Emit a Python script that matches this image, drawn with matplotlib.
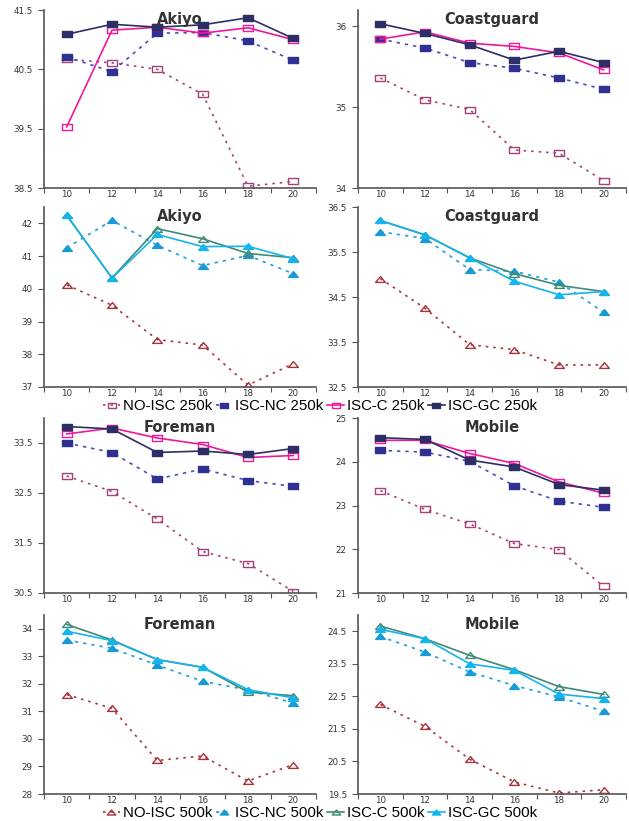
import matplotlib
matplotlib.use("Agg")
import matplotlib.pyplot as plt
from matplotlib.lines import Line2D
from matplotlib.path import Path

plt.rcParams['font.family'] = ['Liberation Sans', 'DejaVu Sans']

qp = ["10", "12", "14", "16", "18", "20"]

# 250k series
akiyo_250_no = [40.67, 40.61, 40.50, 40.08, 38.53, 38.61]
akiyo_250_nc = [40.71, 40.46, 41.11, 41.12, 40.98, 40.65]
akiyo_250_c = [39.53, 41.16, 41.21, 41.11, 41.20, 41.00]
akiyo_250_gc = [41.09, 41.26, 41.21, 41.25, 41.37, 41.02]

coast_250_no = [35.36, 35.09, 34.97, 34.47, 34.43, 34.09]
coast_250_nc = [35.84, 35.73, 35.55, 35.48, 35.36, 35.22]
coast_250_c = [35.84, 35.93, 35.79, 35.75, 35.67, 35.46]
coast_250_gc = [36.03, 35.91, 35.77, 35.58, 35.69, 35.55]

fore_250_no = [32.84, 32.53, 31.98, 31.33, 31.09, 30.53]
fore_250_nc = [33.50, 33.31, 32.78, 32.98, 32.75, 32.63]
fore_250_c = [33.68, 33.80, 33.60, 33.47, 33.21, 33.25]
fore_250_gc = [33.83, 33.78, 33.31, 33.34, 33.27, 33.39]

mob_250_no = [23.34, 22.91, 22.58, 22.13, 21.99, 21.15]
mob_250_nc = [24.26, 24.22, 24.01, 23.45, 23.10, 22.96]
mob_250_c = [24.49, 24.49, 24.19, 23.96, 23.54, 23.28]
mob_250_gc = [24.55, 24.51, 24.04, 23.88, 23.48, 23.35]

# 500k series
akiyo_500_no = [40.12, 39.50, 38.45, 38.28, 37.06, 37.71]
akiyo_500_nc = [41.25, 42.09, 41.33, 40.71, 41.02, 40.46]
akiyo_500_c = [42.25, 40.33, 41.84, 41.53, 41.08, 40.95]
akiyo_500_gc = [42.25, 40.33, 41.66, 41.29, 41.30, 40.92]

coast_500_no = [34.91, 34.25, 33.44, 33.33, 32.99, 32.99]
coast_500_nc = [35.95, 35.80, 35.11, 35.07, 34.83, 34.16]
coast_500_c = [36.20, 35.88, 35.37, 35.02, 34.76, 34.62]
coast_500_gc = [36.20, 35.88, 35.37, 34.85, 34.55, 34.62]

fore_500_no = [31.61, 31.11, 29.22, 29.38, 28.47, 29.07]
fore_500_nc = [33.59, 33.29, 32.68, 32.09, 31.78, 31.30]
fore_500_c = [34.16, 33.59, 32.88, 32.60, 31.70, 31.57]
fore_500_gc = [33.91, 33.57, 32.88, 32.60, 31.79, 31.49]

mob_500_no = [22.25, 21.58, 20.57, 19.87, 19.53, 19.63]
mob_500_nc = [24.34, 23.86, 23.25, 22.83, 22.48, 22.04]
mob_500_c = [24.66, 24.27, 23.76, 23.32, 22.80, 22.56]
mob_500_gc = [24.56, 24.27, 23.50, 23.30, 22.57, 22.43]

labels_250 = ["NO-ISC 250k", "ISC-NC 250k", "ISC-C 250k", "ISC-GC 250k"]
labels_500 = ["NO-ISC 500k", "ISC-NC 500k", "ISC-C 500k", "ISC-GC 500k"]

RECT = Path([(-1, -0.6), (1, -0.6), (1, 0.6), (-1, 0.6), (-1, -0.6)],
            [Path.MOVETO, Path.LINETO, Path.LINETO, Path.LINETO, Path.CLOSEPOLY])
TRI = Path([(-1, -0.6), (1, -0.6), (0, 0.6), (-1, -0.6)],
           [Path.MOVETO, Path.LINETO, Path.LINETO, Path.CLOSEPOLY])

styles_250 = [
    dict(color="#a5407a", ls=(0, (1.5, 3)), marker=RECT, mfc="none", mec="#a5407a"),
    dict(color="#4a4ac0", ls=(0, (2, 3)), marker=RECT, mfc="#2e3192", mec="#2e3192"),
    dict(color="#f0189a", ls="-", marker=RECT, mfc="none", mec="#f0189a"),
    dict(color="#2d2e66", ls="-", marker=RECT, mfc="#2d2e66", mec="#2d2e66"),
]
styles_500 = [
    dict(color="#a8323a", ls=(0, (1.5, 3)), marker=TRI, mfc="none", mec="#a8323a"),
    dict(color="#20a0dc", ls=(0, (2, 3)), marker=TRI, mfc="#1a9ad6", mec="#1a9ad6"),
    dict(color="#3f8a78", ls="-", marker=TRI, mfc="none", mec="#3f8a78"),
    dict(color="#14b4ec", ls="-", marker=TRI, mfc="#14b4ec", mec="#14b4ec"),
]

panels = [
    ("Akiyo", [akiyo_250_no, akiyo_250_nc, akiyo_250_c, akiyo_250_gc], styles_250, (38.5, 41.5), [38.5, 39.5, 40.5, 41.5], ["38.5", "39.5", "40.5", "41.5"]),
    ("Coastguard", [coast_250_no, coast_250_nc, coast_250_c, coast_250_gc], styles_250, (34, 36.2), [34, 35, 36], ["34", "35", "36"]),
    ("Akiyo", [akiyo_500_no, akiyo_500_nc, akiyo_500_c, akiyo_500_gc], styles_500, (37, 42.5), [37, 38, 39, 40, 41, 42], ["37", "38", "39", "40", "41", "42"]),
    ("Coastguard", [coast_500_no, coast_500_nc, coast_500_c, coast_500_gc], styles_500, (32.5, 36.5), [32.5, 33.5, 34.5, 35.5, 36.5], ["32.5", "33.5", "34.5", "35.5", "36.5"]),
    ("Foreman", [fore_250_no, fore_250_nc, fore_250_c, fore_250_gc], styles_250, (30.5, 34.0), [30.5, 31.5, 32.5, 33.5], ["30.5", "31.5", "32.5", "33.5"]),
    ("Mobile", [mob_250_no, mob_250_nc, mob_250_c, mob_250_gc], styles_250, (21, 25), [21, 22, 23, 24, 25], ["21", "22", "23", "24", "25"]),
    ("Foreman", [fore_500_no, fore_500_nc, fore_500_c, fore_500_gc], styles_500, (28, 34.5), [28, 29, 30, 31, 32, 33, 34], ["28", "29", "30", "31", "32", "33", "34"]),
    ("Mobile", [mob_500_no, mob_500_nc, mob_500_c, mob_500_gc], styles_500, (19.5, 25.0), [19.5, 20.5, 21.5, 22.5, 23.5, 24.5], ["19.5", "20.5", "21.5", "22.5", "23.5", "24.5"]),
]

W, H = 629, 821
fig = plt.figure(figsize=(W / 100, H / 100), dpi=100)

rows_px = [(10, 188), (207, 387), (418, 593), (615, 794)]
cols_px = [(44, 316), (358, 626)]

def rect(col, row):
    l, r = cols_px[col]
    t, b = rows_px[row]
    return [l / W, 1 - b / H, (r - l) / W, (b - t) / H]

x = list(range(len(qp)))
spine_c = "#555555"
tick_font = dict(family="DejaVu Sans", size=6.3)
for i, (title, series, styles, ylim, yt, ytl) in enumerate(panels):
    row, col = divmod(i, 2)
    ax = fig.add_axes(rect(col, row))
    for s, st in zip(series, styles):
        ax.plot(x, s, color=st["color"], ls=st["ls"], lw=1.2, marker=st["marker"],
                ms=7, mfc=st["mfc"], mec=st["mec"], mew=1.0)
    ax.set_xlim(-0.5, len(qp) - 0.5)
    ax.set_ylim(*ylim)
    ax.set_yticks(yt)
    ax.set_yticklabels(ytl, fontdict=tick_font)
    ax.set_xticks([k - 0.5 for k in range(len(qp) + 1)])
    ax.set_xticklabels([])
    ax.set_xticks(x, minor=True)
    ax.set_xticklabels(qp, minor=True, fontdict=tick_font)
    ax.tick_params(axis="x", which="minor", length=0, colors="#333333", pad=1.5)
    ax.tick_params(axis="x", which="major", length=3.5, color=spine_c)
    ax.tick_params(axis="y", length=4, pad=4, colors="#333333", color=spine_c)
    for sp in ["top", "right"]:
        ax.spines[sp].set_visible(False)
    for sp in ["left", "bottom"]:
        ax.spines[sp].set_color(spine_c)
        ax.spines[sp].set_linewidth(1.2)
    ax.text(0.5, 0.99, title, transform=ax.transAxes, ha="center", va="top",
            fontsize=10.5, fontweight="bold", family="DejaVu Sans", color="#333333")

def legend_handles(styles, labels):
    hs = []
    for st, lab in zip(styles, labels):
        hs.append(Line2D([0], [0], color=st["color"], ls=st["ls"], lw=1.2,
                         marker=st["marker"], ms=6, mfc=st["mfc"], mec=st["mec"], label=lab))
    return hs

legend_kw = dict(loc="center", ncol=4, frameon=False, fontsize=10.8, handlelength=1.1,
                 handletextpad=0.2, columnspacing=0.25, borderpad=0)
fig.legend(handles=legend_handles(styles_250, labels_250), bbox_to_anchor=(320 / W, 1 - 406 / H), **legend_kw)
fig.legend(handles=legend_handles(styles_500, labels_500), bbox_to_anchor=(320 / W, 1 - 813 / H), **legend_kw)

fig.savefig("out.png", dpi=100)
